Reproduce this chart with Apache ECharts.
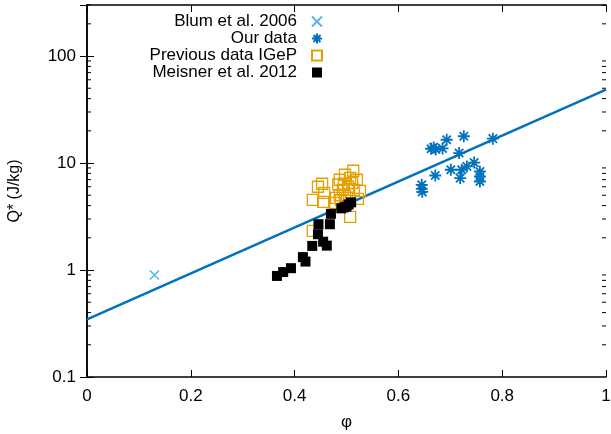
<!DOCTYPE html>
<html><head><meta charset="utf-8">
<script src="https://cdn.jsdelivr.net/npm/echarts@6/dist/echarts.min.js"></script>
<style>html,body{margin:0;padding:0;background:#fff}#c{width:611px;height:434px}</style>
</head><body><div id="c"></div>
<script>
const blumData = [[0.13, 0.90]];
const ourData = [
  [0.645, 6.26], [0.645, 5.74], [0.646, 5.38], [0.671, 7.65],
  [0.663, 13.6], [0.672, 13.4], [0.668, 14.0], [0.685, 13.7], [0.693, 16.5],
  [0.726, 17.8], [0.717, 12.4], [0.701, 8.65], [0.722, 8.65], [0.719, 7.23],
  [0.732, 9.3], [0.746, 10.1], [0.757, 8.34], [0.757, 7.48], [0.757, 6.72],
  [0.782, 16.9]
];
const igepData = [
  [0.435, 4.53], [0.445, 6.0], [0.453, 6.4], [0.457, 5.27], [0.455, 4.34],
  [0.480, 4.73], [0.478, 4.25], [0.435, 2.32], [0.487, 6.98], [0.497, 7.77],
  [0.513, 8.47], [0.493, 5.62], [0.503, 6.0], [0.511, 6.53], [0.520, 6.98],
  [0.526, 5.5], [0.522, 4.62], [0.507, 3.14], [0.497, 4.93], [0.487, 5.0],
  [0.495, 6.4], [0.507, 7.28], [0.484, 6.3], [0.514, 5.6], [0.489, 4.5], [0.505, 5.1]
];
const meisnerData = [
  [0.366, 0.88], [0.378, 0.957], [0.393, 1.04], [0.416, 1.32], [0.421, 1.20],
  [0.434, 1.68], [0.445, 2.16], [0.455, 1.84], [0.462, 1.69], [0.446, 2.68],
  [0.468, 2.68], [0.470, 3.35], [0.490, 3.77], [0.500, 3.92], [0.509, 4.29],
  [0.495, 3.85], [0.504, 4.1]
];
const fitLine = [[0, 0.345], [1, 48.6]];
const xTicks = [0, 0.2, 0.4, 0.6, 0.8, 1];
const yMajor = [0.1, 1, 10, 100];
const yMinor = [0.2,0.3,0.4,0.5,0.6,0.7,0.8,0.9,2,3,4,5,6,7,8,9,20,30,40,50,60,70,80,90,200,300];

const FONT = 'Liberation Sans, Arial, sans-serif';
const FS = 17;
const star = 'path://M0,5L10,5M5,0L5,10M1.5,1.5L8.5,8.5M8.5,1.5L1.5,8.5';
const cross = 'path://M0,0L10,10M10,0L0,10';

const chart = echarts.init(document.getElementById('c'));
const axisLineS = {show: true, lineStyle: {color: '#000', width: 1.5}};
chart.setOption({
  animation: false,
  backgroundColor: '#fff',
  grid: {left: 87, right: 5, top: 5, bottom: 57, outerBoundsMode: 'none', containLabel: false},
  legend: {
    orient: 'vertical', right: 288, top: 13, align: 'right', padding: 0,
    itemWidth: 10, itemHeight: 10, itemGap: 0,
    data: ['Blum et al. 2006', 'Our data', 'Previous data IGeP', 'Meisner et al. 2012'],
    textStyle: {fontFamily: FONT, fontSize: FS, color: '#000', lineHeight: 17, padding: [0, 10, 0, 0]}
  },
  xAxis: [{
    type: 'value', min: 0, max: 1, interval: 0.2,
    name: 'φ', nameLocation: 'middle', nameGap: 37,
    nameTextStyle: {fontFamily: FONT, fontSize: FS, color: '#000'},
    axisLine: axisLineS,
    axisTick: {show: true, inside: true, length: 7, lineStyle: {color: '#000'}},
    axisLabel: {fontFamily: FONT, fontSize: FS, color: '#000', margin: 11,
      formatter: v => xTicks.includes(+v.toFixed(2)) ? String(+v.toFixed(2)) : ''},
    splitLine: {show: false}
  }, {
    type: 'value', min: 0, max: 1, interval: 0.2, position: 'top',
    axisLine: axisLineS,
    axisTick: {show: true, inside: true, length: 7, lineStyle: {color: '#000'}},
    axisLabel: {show: false}, splitLine: {show: false}
  }],
  yAxis: [{
    type: 'log', logBase: 10, min: 0.1, max: 300,
    name: 'Q* (J/kg)', nameLocation: 'middle', nameGap: 64, nameRotate: 90,
    nameTextStyle: {fontFamily: FONT, fontSize: FS - 1, color: '#000'},
    axisLine: axisLineS,
    axisTick: {show: true, inside: true, length: 7, lineStyle: {color: '#000'}},
    axisLabel: {fontFamily: FONT, fontSize: FS, color: '#000', margin: 11, showMaxLabel: false,
      formatter: v => { const m = yMajor.find(t => Math.abs(t - v) / t < 1e-6); return m !== undefined ? String(m) : ''; }},
    splitLine: {show: false}
  }, {
    type: 'log', logBase: 10, min: 0.1, max: 300, position: 'right',
    axisLine: axisLineS,
    axisTick: {show: true, inside: true, length: 7, lineStyle: {color: '#000'}},
    axisLabel: {show: false}, splitLine: {show: false}
  }],
  series: [
    {
      type: 'custom', name: 'minor', silent: true, z: 1,
      data: yMinor.map(v => [0, v]),
      renderItem: (params, api) => {
        const v = api.value(1);
        const a = api.coord([0, v]);
        const b = api.coord([1, v]);
        const st = {stroke: '#000', lineWidth: 1};
        return {type: 'group', children: [
          {type: 'line', shape: {x1: a[0], y1: a[1], x2: a[0] + 4, y2: a[1]}, style: st},
          {type: 'line', shape: {x1: b[0], y1: b[1], x2: b[0] - 4, y2: b[1]}, style: st}
        ]};
      }
    },
    {
      type: 'line', name: 'fit', data: fitLine, symbol: 'none', z: 2,
      lineStyle: {color: '#0072bd', width: 2.5}
    },
    {
      type: 'scatter', name: 'Blum et al. 2006', data: blumData, symbol: cross, symbolSize: 9, z: 3,
      itemStyle: {color: 'rgba(0,0,0,0)', borderColor: '#56b4e9', borderWidth: 1.5, opacity: 1}
    },
    {
      type: 'scatter', name: 'Our data', data: ourData, symbol: star, symbolSize: 12, z: 3,
      itemStyle: {color: 'rgba(0,0,0,0)', borderColor: '#0072bd', borderWidth: 1.8, opacity: 1}
    },
    {
      type: 'scatter', name: 'Previous data IGeP', data: igepData, symbol: 'rect', symbolSize: 11, z: 4,
      itemStyle: {color: 'rgba(0,0,0,0)', borderColor: '#e69f00', borderWidth: 1.3, opacity: 1}
    },
    {
      type: 'scatter', name: 'Meisner et al. 2012', data: meisnerData, symbol: 'rect', symbolSize: 10, z: 5,
      itemStyle: {color: '#000', borderWidth: 0, opacity: 1}
    }
  ]
});
</script></body></html>
